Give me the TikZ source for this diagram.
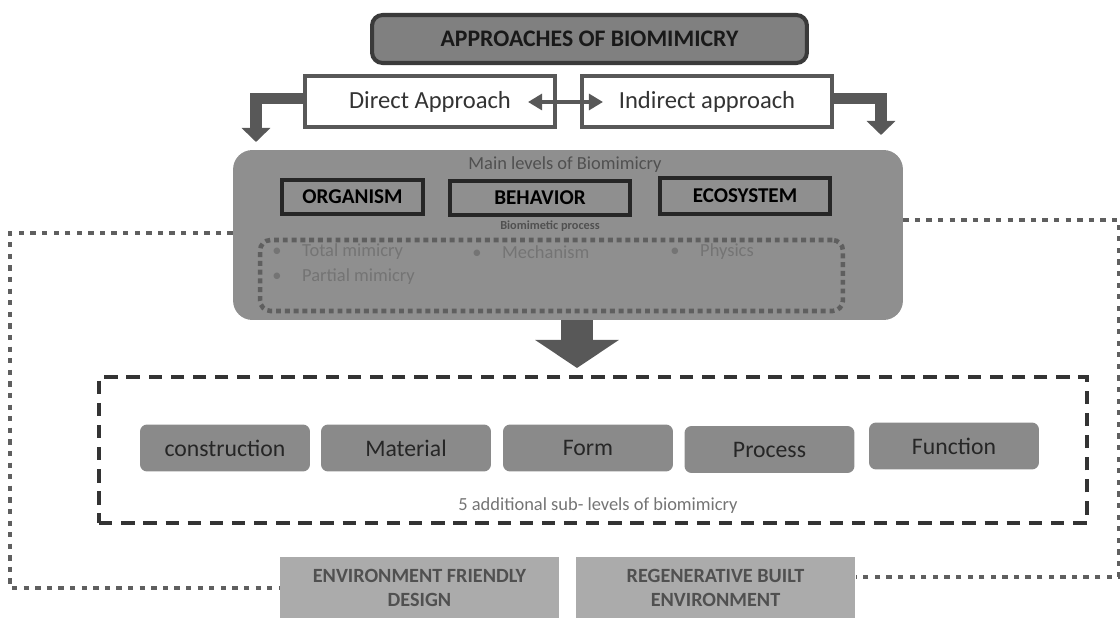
\documentclass[tikz,border=0pt]{standalone}
\usepackage{fontspec}
\setmainfont{Carlito}
\usetikzlibrary{positioning,arrows.meta}
\definecolor{cmain}{RGB}{143,143,143}
\definecolor{ctitle}{RGB}{128,128,128}
\definecolor{cframe}{RGB}{58,58,58}
\definecolor{cline}{RGB}{88,88,88}
\definecolor{cdot}{RGB}{95,95,95}
\definecolor{csub}{RGB}{138,138,138}
\definecolor{clight}{RGB}{171,171,171}
\definecolor{cbullet}{RGB}{116,116,116}
\definecolor{ctext}{RGB}{80,80,80}

\begin{document}
\begin{tikzpicture}[
    x=0.02cm, y=-0.02cm,
    approach/.style={draw=cline, fill=white, line width=2.3pt, minimum width=5cm, minimum height=1.02cm,
                     font=\fontsize{14}{16}\selectfont, text=black!80},
    level/.style={draw=black!85, line width=2pt, minimum height=0.68cm,
                  font=\bfseries\fontsize{12}{14}\selectfont},
    bullet/.style={anchor=west, inner sep=0pt, text=cbullet, font=\fontsize{10.5}{12}\selectfont},
    sublevel/.style={fill=csub, rounded corners=4pt, minimum width=3.4cm, minimum height=0.94cm,
                     font=\fontsize{13.5}{15}\selectfont, text=black!85},
    goal/.style={fill=clight, minimum width=5.6cm, minimum height=1.24cm, align=center,
                 font=\bfseries\fontsize{11.5}{13.5}\selectfont, text=ctext},
    elbow/.style={draw=cline, line width=6.8pt, -{Triangle[width=16pt,length=8pt]}},
    dots/.style={draw=cdot, line width=2.8pt, dash pattern=on 3pt off 3.6pt},
  ]
  \useasboundingbox (0,0) rectangle (1120,618);

  %% Top: title and the two approaches
  \node[draw=cframe, fill=ctitle, line width=2.3pt, rounded corners=6pt,
        minimum width=8.7cm, minimum height=0.96cm,
        font=\bfseries\fontsize{13.5}{15}\selectfont, text=black!90] (title) at (589.5,39)
    {APPROACHES OF BIOMIMICRY};
  \node[approach] (direct)   at (430,101.5) {Direct Approach};
  \node[approach] (indirect) at (707,101.5) {Indirect approach};

  %% Main levels
  \node[fill=cmain, rounded corners=11pt, minimum width=13.4cm, minimum height=3.4cm] (levels) at (568,235) {};
  \node[text=ctext, font=\fontsize{10.5}{12}\selectfont] (levelslbl) at (565,165) {Main levels of Biomimicry};
  \node[level, minimum width=2.82cm] (organism)  at (352.5,197) {ORGANISM};
  \node[level, minimum width=3.6cm]  (behavior)  at (540,198)   {BEHAVIOR};
  \node[level, minimum width=3.4cm, minimum height=0.72cm] (ecosystem) at (745,196) {ECOSYSTEM};
  \node[text=ctext, font=\bfseries\fontsize{7}{8}\selectfont] (proclbl) at (550,226) {Biomimetic process};
  \node[draw=cdot, line width=2.6pt, dash pattern=on 2.8pt off 2.2pt, rounded corners=6pt,
        minimum width=11.66cm, minimum height=1.42cm] (procbox) at (551.5,275.5) {};
  \node[bullet] (total)     at (272,252) {\makebox[17pt][l]{\textbullet}Total mimicry};
  \node[bullet] (partial)   at (272,277) {\makebox[17pt][l]{\textbullet}Partial mimicry};
  \node[bullet] (mechanism) at (472,252) {\makebox[17pt][l]{\textbullet}Mechanism};
  \node[bullet] (physics)   at (670,252) {\makebox[17pt][l]{\textbullet}Physics};

  %% Sub-levels
  \node[draw=black!80, line width=2.1pt, dash pattern=on 7.6pt off 5pt,
        minimum width=19.76cm, minimum height=2.92cm] (sublevels) at (593,450) {};
  \node[sublevel] (construction) at (225,448)   {construction};
  \node[sublevel] (material)     at (406,448)   {Material};
  \node[sublevel] (form)         at (588,448)   {Form};
  \node[sublevel] (process)      at (769.5,449.5) {Process};
  \node[sublevel] (function)     at (954,446)   {Function};
  \node[text=cbullet, font=\fontsize{10.5}{12}\selectfont] (sublbl) at (598,506)
    {5 additional sub- levels of biomimicry};

  %% Bottom goals
  \node[goal] (friendly) at (419.5,588) {ENVIRONMENT FRIENDLY\\DESIGN};
  \node[goal] (regen)    at (715.5,588) {REGENERATIVE BUILT\\ENVIRONMENT};

  %% Arrows
  \coordinate (ltip) at (256,142);
  \coordinate (rtip) at (881,135);
  \coordinate (dtip) at (577,368);
  \draw[elbow] ([yshift=0.06cm]direct.west) -| (ltip);
  \draw[elbow] ([yshift=0.06cm]indirect.east) -| (rtip);
  \draw[draw=cline, line width=2.3pt, {Triangle[width=9pt,length=8pt]}-{Triangle[width=9pt,length=8pt]}]
    ([xshift=-0.58cm,yshift=-0.01cm]direct.east) -- ([xshift=0.46cm,yshift=-0.01cm]indirect.west);
  \draw[draw=cline, line width=18pt, -{Triangle[width=47pt,length=16pt]}] (levels.south -| dtip) -- (dtip);

  %% Dotted links
  \coordinate (lcorner) at (10,233);
  \coordinate (rcorner) at (1119,220);
  \draw[dots] (levels.west |- lcorner) -- (lcorner) |- (friendly.west);
  \draw[dots] (levels.east |- rcorner) -- (rcorner) |- ([yshift=0.22cm]regen.east);

\end{tikzpicture}
\end{document}
